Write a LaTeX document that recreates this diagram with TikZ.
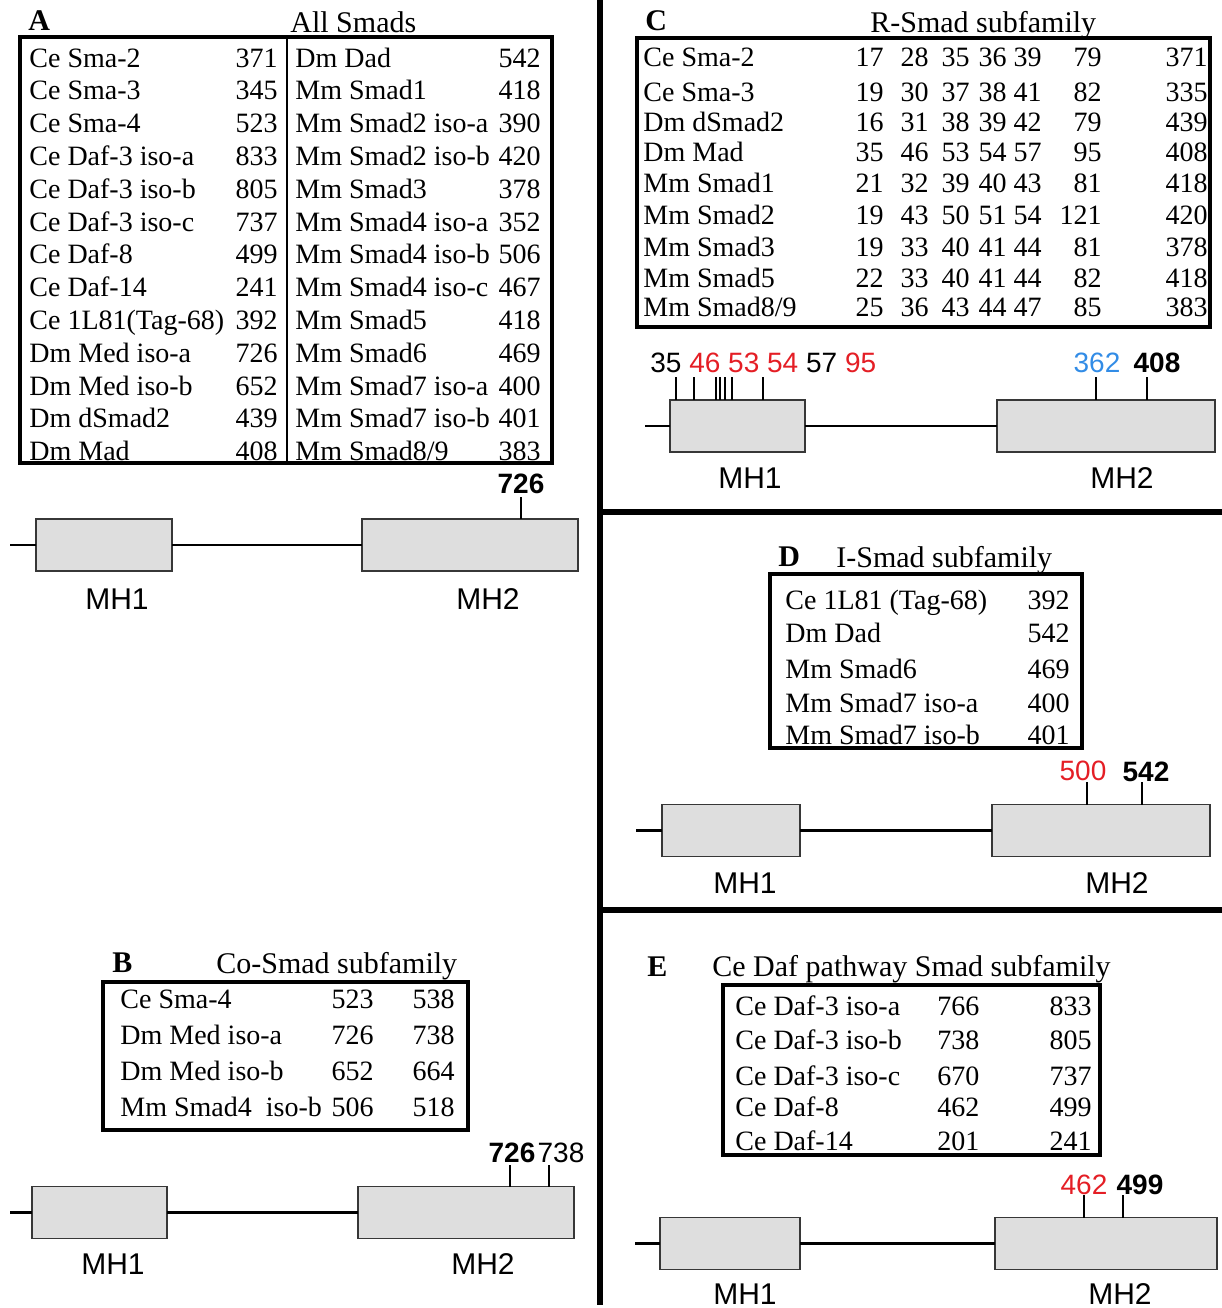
\documentclass[tikz,border=0pt]{standalone}
\usepackage{fontspec}
\setmainfont{Liberation Serif}
\setsansfont{Liberation Sans}
\definecolor{domfill}{RGB}{222,222,222}
\definecolor{domline}{RGB}{55,55,55}
\definecolor{sitered}{RGB}{228,30,37}
\definecolor{siteblue}{RGB}{50,140,230}
\begin{document}
\begin{tikzpicture}[x=0.5pt,y=-0.5pt,
  tab/.style={font=\fontsize{14}{16}\selectfont, inner sep=0pt},
  ttl/.style={font=\fontsize{15}{17}\selectfont, inner sep=0pt, anchor=base west},
  plet/.style={font=\fontsize{15}{17}\selectfont\bfseries, inner sep=0pt, anchor=base west},
  tabbox/.style={line width=2.1pt},
  dom/.style={draw=domline, fill=domfill, line width=0.8pt, inner sep=0pt, outer sep=0pt, minimum height=26pt},
  bb/.style={line width=1.3pt},
  tick/.style={line width=1.2pt},
  lab/.style={font=\sffamily\fontsize{15}{17}\selectfont, inner sep=0pt, anchor=base},
  num/.style={font=\sffamily\fontsize{14}{16}\selectfont, inner sep=0pt, anchor=base},
  bnum/.style={font=\sffamily\bfseries\fontsize{14}{16}\selectfont, inner sep=0pt, anchor=base},
  divider/.style={line width=2.6pt}
]
\useasboundingbox (0,0) rectangle (1222,1308);

% ---------- dividers
\coordinate (vtop) at (600,0);
\coordinate (vbot) at (600,1305);
\draw[divider] (vtop) -- (vbot);
\coordinate (h1l) at (600,512);
\coordinate (h1r) at (1222,512);
\draw[divider] (h1l) -- (h1r);
\coordinate (h2l) at (600,910);
\coordinate (h2r) at (1222,910);
\draw[divider] (h2l) -- (h2r);

% ---------- Panel A
\node[plet] (Alet) at (28,30) {A};
\node[ttl] (Attl) at (290,32) {All Smads};
\draw[tabbox] (20,37) rectangle (552,463);
\coordinate (Adt) at (287,37);
\coordinate (Adb) at (287,463);
\draw[line width=1.4pt] (Adt) -- (Adb);
\foreach \n/\v [count=\i from 0] in {Ce Sma-2/371, Ce Sma-3/345, Ce Sma-4/523, Ce Daf-3 iso-a/833, Ce Daf-3 iso-b/805, Ce Daf-3 iso-c/737, Ce Daf-8/499, Ce Daf-14/241, Ce 1L81(Tag-68)/392, Dm Med iso-a/726, Dm Med iso-b/652, Dm dSmad2/439, Dm Mad/408}{
  \node[tab, anchor=base west] (AL\i) at (29,67+32.8*\i) {\n};
  \node[tab, anchor=base east] (ALv\i) at (278,67+32.8*\i) {\v};
}
\foreach \n/\v [count=\i from 0] in {Dm Dad/542, Mm Smad1/418, Mm Smad2 iso-a/390, Mm Smad2 iso-b/420, Mm Smad3/378, Mm Smad4 iso-a/352, Mm Smad4 iso-b/506, Mm Smad4 iso-c/467, Mm Smad5/418, Mm Smad6/469, Mm Smad7 iso-a/400, Mm Smad7 iso-b/401, {Mm Smad8/9}/383}{
  \node[tab, anchor=base west] (AR\i) at (295,67+32.8*\i) {\n};
  \node[tab, anchor=base east] (ARv\i) at (541,67+32.8*\i) {\v};
}
% diagram A
\node[dom, minimum width=68pt] (a1) at (104,545) {};
\node[dom, minimum width=108pt] (a2) at (470,545) {};
\coordinate (a0) at (10,545);
\draw[bb] (a0) -- (a1.west);
\draw[bb] (a1.east) -- (a2.west);
\coordinate (at1) at (521,497);
\draw[tick] (at1) -- (at1 |- a2.north);
\node[bnum] (al1) at (521,493) {726};
\node[lab] (am1) at (117,609) {MH1};
\node[lab] (am2) at (488,609) {MH2};

% ---------- Panel B
\node[plet] (Blet) at (112,972) {B};
\node[ttl] (Bttl) at (216,973) {Co-Smad subfamily};
\draw[tabbox] (103,982) rectangle (468,1130);
\foreach \n/\a/\b [count=\i from 0] in {Ce Sma-4/523/538, Dm Med iso-a/726/738, Dm Med iso-b/652/664, Mm Smad4\ \ iso-b/506/518}{
  \node[tab, anchor=base west] (BL\i) at (120,1008+36.3*\i) {\n};
  \node[tab, anchor=base east] (Ba\i) at (374,1008+36.3*\i) {\a};
  \node[tab, anchor=base east] (Bb\i) at (455,1008+36.3*\i) {\b};
}
% diagram B
\node[dom, minimum width=67.5pt] (b1) at (99.5,1212.5) {};
\node[dom, minimum width=108pt] (b2) at (466,1212.5) {};
\coordinate (b0) at (10,1212.5);
\draw[bb] (b0) -- (b1.west);
\draw[bb] (b1.east) -- (b2.west);
\coordinate (bt1) at (510,1165);
\coordinate (bt2) at (549,1165);
\draw[tick] (bt1) -- (bt1 |- b2.north);
\draw[tick] (bt2) -- (bt2 |- b2.north);
\node[bnum] (bl1) at (512,1162) {726};
\node[num] (bl2) at (561,1162) {738};
\node[lab] (bm1) at (113,1274) {MH1};
\node[lab] (bm2) at (483,1274) {MH2};

% ---------- Panel C
\node[plet] (Clet) at (645,30) {C};
\node[ttl] (Cttl) at (870,32) {R-Smad subfamily};
\draw[tabbox] (637,38) rectangle (1210,327);
\foreach \n/\a/\b/\c/\d/\e/\f/\g/\yy [count=\i from 0] in {
  Ce Sma-2/17/28/35/36/39/79/371/66,
  Ce Sma-3/19/30/37/38/41/82/335/101,
  Dm dSmad2/16/31/38/39/42/79/439/131,
  Dm Mad/35/46/53/54/57/95/408/161,
  Mm Smad1/21/32/39/40/43/81/418/192,
  Mm Smad2/19/43/50/51/54/121/420/224,
  Mm Smad3/19/33/40/41/44/81/378/256,
  Mm Smad5/22/33/40/41/44/82/418/287,
  {Mm Smad8/9}/25/36/43/44/47/85/383/316}{
  \node[tab, anchor=base west] (CL\i) at (643,\yy) {\n};
  \node[tab, anchor=base east] (Ca\i) at (884,\yy) {\a};
  \node[tab, anchor=base east] (Cb\i) at (929,\yy) {\b};
  \node[tab, anchor=base east] (Cc\i) at (970,\yy) {\c};
  \node[tab, anchor=base east] (Cd\i) at (1007,\yy) {\d};
  \node[tab, anchor=base east] (Ce\i) at (1042,\yy) {\e};
  \node[tab, anchor=base east] (Cf\i) at (1102,\yy) {\f};
  \node[tab, anchor=base east] (Cg\i) at (1208,\yy) {\g};
}
% diagram C
\node[dom, minimum width=67.5pt] (c1) at (737.5,426) {};
\node[dom, minimum width=109pt] (c2) at (1106,426) {};
\coordinate (c0) at (645,426);
\draw[bb] (c0) -- (c1.west);
\draw[bb] (c1.east) -- (c2.west);
\foreach \t [count=\k] in {676,694,716,720,725,732,763,1096,1147}{
  \coordinate (ct\k) at (\t,377);
  \draw[tick] (ct\k) -- (ct\k |- c1.north);
}
\node[num, anchor=base west] (cl1) at (650,372) {35 \textcolor{sitered}{46 53 54} 57 \textcolor{sitered}{95}};
\node[num, text=siteblue] (cl2) at (1097,372) {362};
\node[bnum] (cl3) at (1157,372) {408};
\node[lab] (cm1) at (750,488) {MH1};
\node[lab] (cm2) at (1122,488) {MH2};

% ---------- Panel D
\node[plet] (Dlet) at (778,566) {D};
\node[ttl] (Dttl) at (836,567) {I-Smad subfamily};
\draw[tabbox] (770,574) rectangle (1082,748);
\foreach \n/\v/\yy [count=\i from 0] in {Ce 1L81 (Tag-68)/392/609, Dm Dad/542/642, Mm Smad6/469/678, Mm Smad7 iso-a/400/712, Mm Smad7 iso-b/401/744}{
  \node[tab, anchor=base west] (DL\i) at (785,\yy) {\n};
  \node[tab, anchor=base east] (Dv\i) at (1070,\yy) {\v};
}
% diagram D
\node[dom, minimum width=69pt] (d1) at (731,830.5) {};
\node[dom, minimum width=109pt] (d2) at (1101,830.5) {};
\coordinate (d0) at (636,830.5);
\draw[bb] (d0) -- (d1.west);
\draw[bb] (d1.east) -- (d2.west);
\coordinate (dt1) at (1087,782);
\coordinate (dt2) at (1142,782);
\draw[tick] (dt1) -- (dt1 |- d2.north);
\draw[tick] (dt2) -- (dt2 |- d2.north);
\node[num, text=sitered] (dl1) at (1083,780) {500};
\node[bnum] (dl2) at (1146,781) {542};
\node[lab] (dm1) at (745,893) {MH1};
\node[lab] (dm2) at (1117,893) {MH2};

% ---------- Panel E
\node[plet] (Elet) at (647,976) {E};
\node[ttl] (Ettl) at (712,976) {Ce Daf pathway Smad subfamily};
\draw[tabbox] (723,985) rectangle (1100,1155);
\foreach \n/\a/\b/\yy [count=\i from 0] in {Ce Daf-3 iso-a/766/833/1015, Ce Daf-3 iso-b/738/805/1049, Ce Daf-3 iso-c/670/737/1085, Ce Daf-8/462/499/1116, Ce Daf-14/201/241/1150}{
  \node[tab, anchor=base west] (EL\i) at (735,\yy) {\n};
  \node[tab, anchor=base west] (Ea\i) at (937,\yy) {\a};
  \node[tab, anchor=base east] (Eb\i) at (1092,\yy) {\b};
}
% diagram E
\node[dom, minimum width=70pt] (e1) at (730,1243.5) {};
\node[dom, minimum width=111pt] (e2) at (1106,1243.5) {};
\coordinate (e0) at (635,1243.5);
\draw[bb] (e0) -- (e1.west);
\draw[bb] (e1.east) -- (e2.west);
\coordinate (et1) at (1084,1195);
\coordinate (et2) at (1123,1195);
\draw[tick] (et1) -- (et1 |- e2.north);
\draw[tick] (et2) -- (et2 |- e2.north);
\node[num, text=sitered] (el1) at (1084,1194) {462};
\node[bnum] (el2) at (1140,1194) {499};
\node[lab] (em1) at (745,1304) {MH1};
\node[lab] (em2) at (1120,1304) {MH2};
\end{tikzpicture}
\end{document}
